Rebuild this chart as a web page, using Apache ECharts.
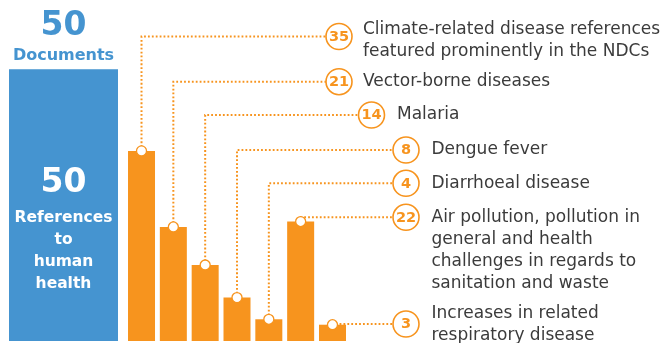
<!DOCTYPE html>
<html><head><meta charset="utf-8">
<script src="https://cdn.jsdelivr.net/npm/echarts@6/dist/echarts.min.js"></script>
<style>html,body{margin:0;padding:0;background:#fff}#c{width:670px;height:343px}</style>
</head><body><div id="c"></div>
<script>
// ---- data ----
const documentsCount = 50;
const healthReferences = 50;
const categories = [
  'Climate-related disease references featured prominently in the NDCs',
  'Vector-borne diseases',
  'Malaria',
  'Dengue fever',
  'Diarrhoeal disease',
  'Air pollution, pollution in general and health challenges in regards to sanitation and waste',
  'Increases in related respiratory disease'
];
const references = [35, 21, 14, 8, 4, 22, 3];
const wrappedLabels = [
  'Climate-related disease references\nfeatured prominently in the NDCs',
  'Vector-borne diseases',
  'Malaria',
  'Dengue fever',
  'Diarrhoeal disease',
  'Air pollution, pollution in\ngeneral and health\nchallenges in regards to\nsanitation and waste',
  'Increases in related\nrespiratory disease'
];

// ---- layout (pixel positions of callouts) ----
const calloutLayout = [
  {bx: 339, by: 36.5, tx: 363, ty: 30},
  {bx: 339, by: 81.7, tx: 363, ty: 81.7},
  {bx: 371.5, by: 115, tx: 397, ty: 115},
  {bx: 406, by: 150, tx: 431.5, ty: 150},
  {bx: 406, by: 183.3, tx: 431.5, ty: 183.3},
  {bx: 406, by: 217.3, tx: 431.5, ty: 217.3},
  {bx: 406, by: 324, tx: 431.5, ty: 313.5}
];
const ORANGE = '#F7941E';
const BLUE = '#4594D0';
const TEXT = '#3b3b3b';
const FONT = '"DejaVu Sans", sans-serif';

const chart = echarts.init(document.getElementById('c'), null, {renderer: 'canvas'});

const option = {
  animation: false,
  grid: [
    {left: 9, width: 109, top: 69.5, bottom: 2},
    {left: 125.6, width: 222.8, top: 69.5, bottom: 2}
  ],
  xAxis: [
    {gridIndex: 0, type: 'category', data: ['Health'], show: false},
    {gridIndex: 1, type: 'category', data: categories, show: false}
  ],
  yAxis: [
    {gridIndex: 0, type: 'value', min: 0, max: 50, show: false},
    {gridIndex: 1, type: 'value', min: 0, max: 50, show: false}
  ],
  series: [
    {
      type: 'bar', xAxisIndex: 0, yAxisIndex: 0,
      data: [healthReferences], barWidth: '100%',
      itemStyle: {color: BLUE},
      label: {
        show: true, position: 'top', distance: 4,
        formatter: () => '{n|' + documentsCount + '}\n{d|Documents}',
        rich: {
          n: {fontFamily: FONT, fontWeight: 'bold', fontSize: 33, color: BLUE, lineHeight: 38, align: 'center'},
          d: {fontFamily: FONT, fontWeight: 'bold', fontSize: 16, color: BLUE, lineHeight: 20, align: 'center'}
        }
      }
    },
    {
      type: 'bar', xAxisIndex: 0, yAxisIndex: 0,
      data: [healthReferences], barWidth: '100%', barGap: '-100%',
      itemStyle: {color: BLUE},
      label: {
        show: true, position: ['50%', 89.5], align: 'center', verticalAlign: 'top',
        formatter: (p) => '{n|' + p.value + '}\n{t|References}\n{t|to}\n{t|human}\n{t|health}',
        rich: {
          n: {fontFamily: FONT, fontWeight: 'bold', fontSize: 33, color: '#fff', lineHeight: 48, align: 'center'},
          t: {fontFamily: FONT, fontWeight: 'bold', fontSize: 15.5, color: '#fff', lineHeight: 22, align: 'center'}
        }
      }
    },
    {
      type: 'bar', xAxisIndex: 1, yAxisIndex: 1,
      data: references, barWidth: 27,
      itemStyle: {color: ORANGE}
    },
    {
      type: 'custom', xAxisIndex: 1, yAxisIndex: 1, z: 5,
      encode: {x: 0, y: 1},
      data: references.map((v, i) => [i, v]),
      renderItem: function (params, api) {
        const i = params.dataIndex;
        const v = api.value(1);
        const p = api.coord([api.value(0), v]);
        const c = calloutLayout[i];
        const r = 13;
        const pts = [[p[0], p[1]], [p[0], c.by], [c.bx - r, c.by]];
        return {
          type: 'group',
          children: [
            {type: 'polyline', shape: {points: pts},
              style: {stroke: ORANGE, lineWidth: 2, lineDash: [1.8, 2.1], fill: null}},
            {type: 'circle', shape: {cx: p[0], cy: p[1], r: 5},
              style: {fill: '#fff', stroke: ORANGE, lineWidth: 1.3}},
            {type: 'circle', shape: {cx: c.bx, cy: c.by, r: r},
              style: {fill: '#fff', stroke: ORANGE, lineWidth: 1.6}},
            {type: 'text', x: c.bx, y: c.by + 0.5,
              style: {text: String(v), fill: ORANGE, fontFamily: FONT, fontWeight: 'bold', fontSize: 14.5,
                align: 'center', verticalAlign: 'middle'}},
            {type: 'text', x: c.tx, y: c.ty - 11,
              style: {text: wrappedLabels[i], fill: TEXT, fontFamily: FONT, fontSize: 17,
                lineHeight: 22, align: 'left', verticalAlign: 'top'}}
          ]
        };
      }
    }
  ]
};
chart.setOption(option);
</script>
</body></html>
